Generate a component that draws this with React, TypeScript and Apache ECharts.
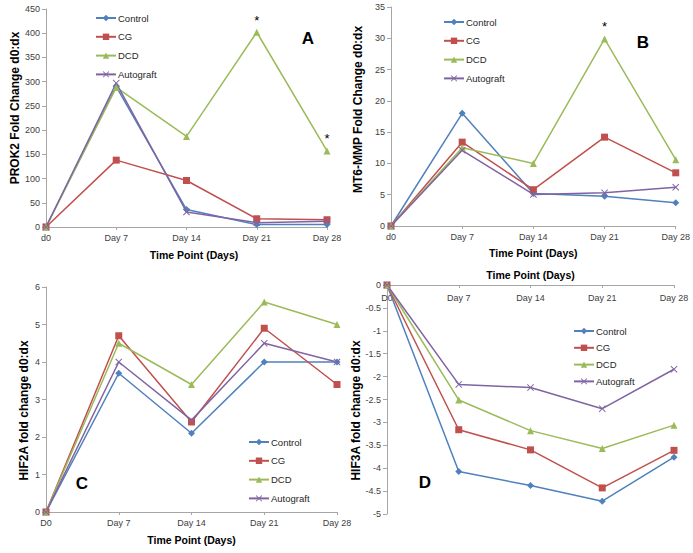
import React, { useEffect, useRef } from "react";
import * as echarts from "echarts";

const categoriesAB = ["d0", "Day 7", "Day 14", "Day 21", "Day 28"];
const categoriesCD = ["D0", "Day 7", "Day 14", "Day 21", "Day 28"];
const seriesNames = ["Control", "CG", "DCD", "Autograft"];

// Panel A: PROK2
const prok2Control = [0, 290, 36, 5, 5];
const prok2CG = [0, 138, 96, 17, 15];
const prok2DCD = [0, 288, 187, 402, 157];
const prok2Autograft = [0, 297, 31, 9, 12];
const prok2Stars = [3, 4]; // DCD points marked with *

// Panel B: MT6-MMP
const mt6Control = [0, 18.0, 5.2, 4.75, 3.7];
const mt6CG = [0, 13.4, 5.8, 14.2, 8.5];
const mt6DCD = [0, 12.5, 10.0, 29.9, 10.6];
const mt6Autograft = [0, 12.1, 5.05, 5.3, 6.2];
const mt6Stars = [3];

// Panel C: HIF2A
const hif2Control = [0, 3.7, 2.1, 4.0, 4.0];
const hif2CG = [0, 4.7, 2.4, 4.9, 3.4];
const hif2DCD = [0, 4.5, 3.4, 5.6, 5.0];
const hif2Autograft = [0, 4.0, 2.45, 4.5, 4.0];

// Panel D: HIF3A
const hif3Control = [0, -4.07, -4.38, -4.72, -3.76];
const hif3CG = [0, -3.16, -3.6, -4.43, -3.61];
const hif3DCD = [0, -2.51, -3.18, -3.57, -3.06];
const hif3Autograft = [0, -2.17, -2.24, -2.7, -1.84];

const colors = ["#4F81BD", "#C0504D", "#9BBB59", "#8064A2"];
const crossPath =
  "path://M0,1L1,0L5,4L9,0L10,1L6,5L10,9L9,10L5,6L1,10L0,9L4,5Z";
const symbols = ["diamond", "rect", "triangle", crossPath];
const symbolSizes = [7, 7, 7, 7];

const FONT = "Liberation Sans";
const axisGray = "#A6A6A6";
const labelColor = "#404040";

function makeSeries(
  idx: number,
  values: number[],
  gridIndex: number,
  stars: number[] = []
) {
  return {
    type: "line",
    name: seriesNames[idx],
    xAxisIndex: gridIndex,
    yAxisIndex: gridIndex,
    symbol: symbols[idx],
    symbolSize: symbolSizes[idx],
    showAllSymbol: true,
    lineStyle: { width: 1.5, color: colors[idx] },
    itemStyle: { color: colors[idx] },
    data: values.map((v, i) =>
      stars.includes(i)
        ? {
            value: v,
            label: {
              show: true,
              formatter: "*",
              position: "top",
              distance: 2,
              color: "#000",
              fontSize: 13,
              fontFamily: FONT,
            },
          }
        : v
    ),
  };
}

function xAxis(
  gridIndex: number,
  cats: string[],
  nameGap: number,
  opts: any = {}
) {
  return {
    type: "category",
    gridIndex,
    data: cats,
    boundaryGap: false,
    name: "Time Point (Days)",
    nameLocation: "middle",
    nameGap,
    nameTextStyle: {
      fontFamily: FONT,
      fontWeight: "bold",
      fontSize: 10.5,
      color: "#000",
      ...(opts.namePadding ? { padding: opts.namePadding } : {}),
    },
    axisLine: { onZero: false, lineStyle: { color: axisGray, width: 1 } },
    axisTick: {
      show: true,
      length: 3,
      inside: !!opts.tickInside,
      alignWithLabel: true,
      lineStyle: { color: axisGray },
    },
    axisLabel: {
      fontFamily: FONT,
      fontSize: 9,
      color: labelColor,
      margin: opts.labelMargin ?? 6,
      inside: !!opts.labelInside,
      interval: 0,
    },
    splitLine: { show: false },
    position: opts.position ?? "bottom",
  };
}

function yAxis(
  gridIndex: number,
  name: string,
  min: number,
  max: number,
  interval: number,
  nameGap: number,
  namePadding: number[]
) {
  return {
    type: "value",
    gridIndex,
    min,
    max,
    interval,
    name,
    nameLocation: "middle",
    nameGap,
    nameTextStyle: {
      fontFamily: FONT,
      fontWeight: "bold",
      fontSize: 12,
      color: "#000",
      padding: namePadding,
    },
    axisLine: { show: true, lineStyle: { color: axisGray, width: 1 } },
    axisTick: { show: true, length: 4, lineStyle: { color: axisGray } },
    axisLabel: {
      fontFamily: FONT,
      fontSize: 9,
      color: labelColor,
      margin: 6,
    },
    splitLine: { show: false },
  };
}

function legend(left: number, top: number, itemGap: number) {
  return {
    orient: "vertical",
    left,
    top,
    itemWidth: 20,
    itemHeight: 8,
    itemGap,
    data: seriesNames,
    textStyle: {
      fontFamily: FONT,
      fontSize: 9.5,
      color: "#262626",
      padding: [0, 0, 0, -3],
    },
  };
}

// Note: the four legends each list the same series names; ECharts maps them to all
// series with these names, which is fine since every panel uses the same styles.

export default function App() {
  const ref = useRef<HTMLDivElement>(null);
  useEffect(() => {
    if (!ref.current) return;
    const chart = echarts.init(ref.current, undefined, { renderer: "svg" });
    const letter = (text: string, x: number, y: number) => ({
      type: "text",
      x,
      y,
      style: {
        text,
        fontFamily: FONT,
        fontWeight: "bold",
        fontSize: 17,
        fill: "#000",
        align: "center",
        verticalAlign: "middle",
      },
    });
    const option: any = {
      animation: false,
      backgroundColor: "#fff",
      grid: [
        { left: 46, top: 9, width: 281, height: 218 },
        { left: 391, top: 7, width: 285, height: 219 },
        { left: 46, top: 287, width: 291, height: 225 },
        { left: 387, top: 285, width: 287, height: 229 },
      ],
      legend: [
        legend(90, 8, 8.8),
        legend(438, 12, 8.8),
        legend(243, 432, 8.8),
        legend(568, 321, 6.8),
      ],
      xAxis: [
        xAxis(0, categoriesAB, 22, { namePadding: [0, 0, 0, 15] }),
        xAxis(1, categoriesAB, 21),
        xAxis(2, categoriesCD, 22),
        xAxis(3, categoriesCD, 5, {
          position: "top",
          labelInside: true,
          tickInside: true,
          labelMargin: 8,
        }),
      ],
      yAxis: [
        yAxis(0, "PROK2 Fold Change d0:dx", 0, 450, 50, 25, [0, 0, 0, 20]),
        yAxis(1, "MT6-MMP Fold Change d0:dx", 0, 35, 5, 27, [0, 0, 0, 14]),
        yAxis(2, "HIF2A fold change d0:dx", 0, 6, 1, 16, [0, 22, 0, 0]),
        yAxis(3, "HIF3A fold change d0:dx", -5, 0, 0.5, 23, [0, 22, 0, 0]),
      ],
      series: [
        makeSeries(0, prok2Control, 0),
        makeSeries(1, prok2CG, 0),
        makeSeries(2, prok2DCD, 0, prok2Stars),
        makeSeries(3, prok2Autograft, 0),
        makeSeries(0, mt6Control, 1),
        makeSeries(1, mt6CG, 1),
        makeSeries(2, mt6DCD, 1, mt6Stars),
        makeSeries(3, mt6Autograft, 1),
        makeSeries(0, hif2Control, 2),
        makeSeries(1, hif2CG, 2),
        makeSeries(2, hif2DCD, 2),
        makeSeries(3, hif2Autograft, 2),
        makeSeries(0, hif3Control, 3),
        makeSeries(1, hif3CG, 3),
        makeSeries(2, hif3DCD, 3),
        makeSeries(3, hif3Autograft, 3),
      ],
      graphic: [
        letter("A", 308, 38),
        letter("B", 643, 42),
        letter("C", 82, 483),
        letter("D", 425, 482),
      ],
    };
    chart.setOption(option);
    return () => chart.dispose();
  }, []);
  return (
    <div
      ref={ref}
      style={{
        position: "absolute",
        left: 0,
        top: 0,
        width: 693,
        height: 553,
        background: "#fff",
      }}
    />
  );
}
